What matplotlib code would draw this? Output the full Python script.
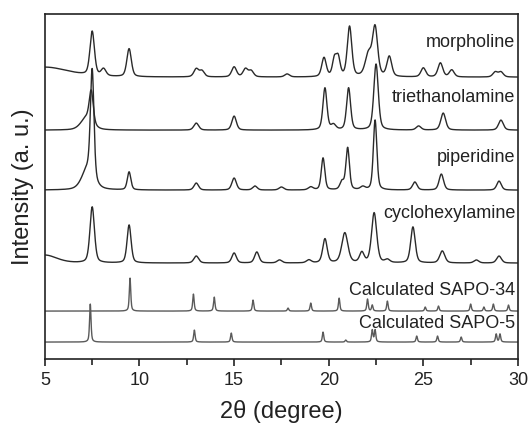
import numpy as np
import matplotlib.pyplot as plt
from matplotlib.ticker import MultipleLocator

plt.rcParams["font.family"] = ["Liberation Sans", "DejaVu Sans"]

# peak lists: position (2theta), height above baseline, fwhm
# heights are in plot units (pixels of the original figure)
morph_base = 282
morph_pos = [5.0, 7.5, 8.1, 9.45, 13.0, 13.3, 15.0, 15.6, 15.9, 17.8, 19.75, 20.3, 20.5,
             21.1, 22.1, 22.45, 23.2, 25.0, 25.9, 26.5, 28.8, 29.1]
morph_h = [10, 44, 7, 28, 8, 6, 10, 8, 6, 3, 19, 17, 18, 50, 22, 48, 20, 9, 14, 7, 5, 5]
morph_w = [3.0, 0.28, 0.3, 0.28, 0.3, 0.3, 0.3, 0.3, 0.3, 0.3, 0.28, 0.25, 0.25,
           0.28, 0.4, 0.32, 0.3, 0.3, 0.3, 0.3, 0.3, 0.3]

tea_base = 229
tea_pos = [7.2, 7.45, 13.0, 15.0, 19.8, 20.25, 21.05, 22.5, 24.75, 26.05, 29.1]
tea_h = [12, 32, 7, 14, 42, 5, 42, 66, 4, 17, 10]
tea_w = [0.7, 0.25, 0.3, 0.28, 0.25, 0.3, 0.25, 0.28, 0.3, 0.3, 0.3]

pip_base = 169
pip_pos = [7.25, 7.5, 9.45, 13.0, 15.0, 16.1, 17.5, 19.05, 19.7, 20.7, 21.0, 21.8,
           22.45, 24.55, 25.95, 29.0]
pip_h = [20, 108, 18, 7, 12, 4, 3, 3, 32, 8, 42, 3, 70, 8, 16, 9]
pip_w = [0.7, 0.22, 0.22, 0.28, 0.28, 0.28, 0.3, 0.3, 0.22, 0.25, 0.22, 0.3, 0.22, 0.28,
         0.28, 0.28]

cyc_base = 96
cyc_pos = [5.0, 7.5, 9.45, 13.0, 15.0, 16.2, 17.4, 18.95, 19.8, 20.85, 21.75, 22.4,
           23.1, 24.45, 26.0, 27.8, 29.0]
cyc_h = [8, 56, 38, 7, 10, 11, 3, 3, 24, 30, 10, 50, 3, 36, 12, 3, 7]
cyc_w = [1.5, 0.28, 0.25, 0.3, 0.28, 0.28, 0.3, 0.3, 0.28, 0.38, 0.28, 0.32, 0.3, 0.28,
         0.32, 0.3, 0.3]

s34_base = 48
s34_pos = [9.5, 12.85, 13.95, 16.0, 17.85, 19.05, 20.55, 22.05, 22.3, 23.1, 25.1,
           25.8, 27.5, 28.2, 28.7, 29.5]
s34_h = [33, 17, 14, 11, 3, 8, 13, 12, 6, 10, 4, 5, 7, 4, 7, 6]

s5_base = 17
s5_pos = [7.4, 12.9, 14.85, 19.7, 20.9, 22.3, 22.45, 24.65, 25.75, 27.0, 28.85, 29.05]
s5_h = [38, 12, 9, 10, 2, 12, 12, 6, 6, 5, 8, 8]

labels = ["morpholine", "triethanolamine", "piperidine", "cyclohexylamine",
          "Calculated SAPO-34", "Calculated SAPO-5"]
label_y = [317, 262, 202, 146, 69, 36]


def profile(x, pos, h, w, eta=0.4):
    # pseudo-Voigt peaks
    y = np.zeros_like(x)
    for p, a, g in zip(pos, h, w):
        d = (x - p) / (g / 2)
        y += a * (eta / (1 + d ** 2) + (1 - eta) * np.exp(-np.log(2) * d ** 2))
    return y


x = np.linspace(5, 30, 3000)

fig = plt.figure(figsize=(5.28, 4.30), dpi=100)
ax = fig.add_axes([0.085, 0.165, 0.896, 0.802])

exp = [(morph_base, morph_pos, morph_h, morph_w),
       (tea_base, tea_pos, tea_h, tea_w),
       (pip_base, pip_pos, pip_h, pip_w),
       (cyc_base, cyc_pos, cyc_h, cyc_w)]
for base, pos, h, w in exp:
    ax.plot(x, base + profile(x, pos, h, w), color="#2a2a2a", lw=1.0)

for base, pos, h in [(s34_base, s34_pos, s34_h), (s5_base, s5_pos, s5_h)]:
    ax.plot(x, base + profile(x, pos, h, [0.09] * len(pos), eta=0.6),
            color="#5a5a5a", lw=1.0)

for lab, ly in zip(labels, label_y):
    ax.text(29.85, ly, lab, ha="right", va="center", fontsize=13, color="#222222")

ax.set_xlim(5, 30)
ax.set_ylim(0, 345)
ax.xaxis.set_major_locator(MultipleLocator(5))
ax.xaxis.set_minor_locator(MultipleLocator(2.5))
ax.tick_params(axis="x", which="major", direction="out", length=5, width=1.2,
               labelsize=13, pad=4, colors="#222222")
ax.tick_params(axis="x", which="minor", direction="out", length=4, width=1.2,
               colors="#222222")
ax.set_yticks([])
for s in ax.spines.values():
    s.set_linewidth(1.2)
    s.set_color("#222222")

ax.set_xlabel("2θ (degree)", fontsize=17, labelpad=8, color="#222222")
ax.set_ylabel("Intensity (a. u.)", fontsize=17, labelpad=8, color="#222222")

fig.savefig("out.png", dpi=100)
